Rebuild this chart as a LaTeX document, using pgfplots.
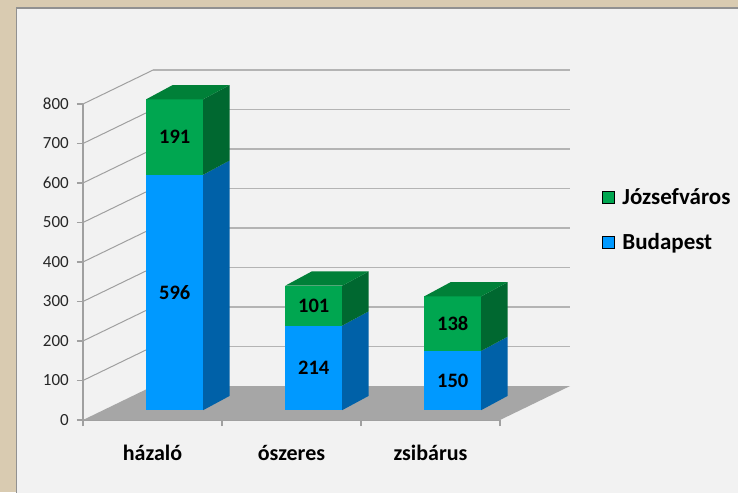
\documentclass[border=0pt]{standalone}
\usepackage{pgfplots}
\usepackage{pgfplotstable}
\pgfplotsset{compat=1.18}
\usepackage{fontspec}
\setmainfont{Carlito}

\definecolor{bluefront}{RGB}{0,153,255}
\definecolor{blueside}{RGB}{0,97,168}
\definecolor{greenfront}{RGB}{0,166,80}
\definecolor{greenside}{RGB}{0,104,48}
\definecolor{greentop}{RGB}{0,128,56}
\definecolor{floorgrey}{RGB}{166,166,166}
\definecolor{backgrid}{RGB}{180,180,180}
\definecolor{sidegrid}{RGB}{160,160,160}
\definecolor{axisgrey}{RGB}{160,160,160}
\definecolor{beige}{RGB}{217,203,177}
\definecolor{panel}{RGB}{242,242,242}
\definecolor{panelborder}{RGB}{145,145,145}
\definecolor{ticktext}{RGB}{38,38,38}

% values
\pgfplotstableread{
x bud jozs
0 596 191
1 214 101
2 150 138
}\datatable

% one 3-D stacked column: front faces, right side faces, top face
\newcommand\drawbar[1]{%
  \pgfplotstablegetelem{#1}{x}\of\datatable
  \pgfmathsetmacro\cx{\pgfplotsretval+0.16}%
  \pgfplotstablegetelem{#1}{bud}\of\datatable
  \pgfmathsetmacro\yb{25+\pgfplotsretval}%
  \pgfplotstablegetelem{#1}{jozs}\of\datatable
  \pgfmathsetmacro\yj{\yb+\pgfplotsretval}%
  \pgfmathsetmacro\xl{\cx-0.205}%
  \pgfmathsetmacro\xr{\cx+0.205}%
  \pgfmathsetmacro\xs{\xr+0.19}%
  \pgfmathsetmacro\xls{\xl+0.19}%
  \pgfmathsetmacro\ybs{\yb+36}%
  \pgfmathsetmacro\yjs{\yj+36}%
  \addplot[fill=bluefront,draw=none,forget plot] coordinates {(\xl,25) (\xr,25) (\xr,\yb) (\xl,\yb)} -- cycle;
  \addplot[fill=blueside,draw=none,forget plot] coordinates {(\xr,25) (\xs,61) (\xs,\ybs) (\xr,\yb)} -- cycle;
  \addplot[fill=greenfront,draw=none,forget plot] coordinates {(\xl,\yb) (\xr,\yb) (\xr,\yj) (\xl,\yj)} -- cycle;
  \addplot[fill=greenside,draw=none,forget plot] coordinates {(\xr,\yb) (\xs,\ybs) (\xs,\yjs) (\xr,\yj)} -- cycle;
  \addplot[fill=greentop,draw=none,forget plot] coordinates {(\xl,\yj) (\xr,\yj) (\xs,\yjs) (\xls,\yjs)} -- cycle;
}

\begin{document}
\begin{tikzpicture}[x=1pt,y=1pt]
\path[use as bounding box] (0,0) rectangle (738,492);
\fill[beige] (0,0) rectangle (738,492);
\filldraw[fill=panel,draw=panelborder,line width=1.5pt] (16.5,-10) rectangle (760,484);
\begin{axis}[
  at={(83pt,72pt)}, anchor=south west,
  scale only axis, width=417pt, height=316pt,
  xmin=-0.5, xmax=2.5, ymin=0, ymax=800,
  clip=false,
  axis lines*=left,
  axis line style={draw=axisgrey, line width=1.5pt},
  tick align=outside,
  major tick length=6pt,
  tick style={draw=axisgrey, line width=1.2pt},
  xtick={-0.5,0.5,1.5,2.5},
  xticklabels={,,,},
  extra x ticks={0,1,2},
  extra x tick labels={házaló,ószeres,zsibárus},
  extra x tick style={tick style={draw=none},
    xticklabel style={font=\bfseries\fontsize{22}{22}\selectfont, text=black, anchor=base, inner sep=0pt, yshift=-34pt}},
  ytick={0,100,...,800},
  yticklabel style={font=\fontsize{17}{17}\selectfont, text=ticktext, inner sep=0pt, xshift=-8pt},
  /pgf/number format/assume math mode=true,
  legend style={at={(1.237,0.747)}, anchor=north west, draw=none, fill=none,
    font=\bfseries\fontsize{23}{23}\selectfont, row sep=24pt},
  legend cell align=left,
  legend image code/.code={\fill[#1] (0pt,-6pt) rectangle (12pt,6pt); \path (18pt,0pt);},
]
% left wall and back wall gridlines
\pgfplotsinvokeforeach{100,200,...,800}{%
  \pgfmathsetmacro\gv{#1+86}%
  \addplot[sidegrid,line width=1pt,forget plot] coordinates {(-0.5,#1) (0.004,\gv)};
  \addplot[backgrid,line width=1.6pt,forget plot] coordinates {(0.004,\gv) (3.004,\gv)};
}
% floor
\addplot[fill=floorgrey,draw=none,forget plot] coordinates {(-0.5,0) (2.5,0) (3.004,86) (0.004,86)} -- cycle;
% columns
\drawbar{0}
\drawbar{1}
\drawbar{2}
% data labels
\addplot[draw=none,mark=none,forget plot,nodes near coords,point meta=explicit,
  every node near coord/.append style={anchor=center,text=black,font=\bfseries\fontsize{20.5}{21}\selectfont}]
  table[x expr=\thisrow{x}+0.16, y expr=25+\thisrow{bud}/2, meta=bud] {\datatable};
\addplot[draw=none,mark=none,forget plot,nodes near coords,point meta=explicit,
  every node near coord/.append style={anchor=center,text=black,font=\bfseries\fontsize{20.5}{21}\selectfont}]
  table[x expr=\thisrow{x}+0.16, y expr=25+\thisrow{bud}+\thisrow{jozs}/2, meta=jozs] {\datatable};
% legend
\addlegendimage{fill=greenfront}
\addlegendentry{Józsefváros}
\addlegendimage{fill=bluefront}
\addlegendentry{Budapest}
\end{axis}
\end{tikzpicture}
\end{document}
